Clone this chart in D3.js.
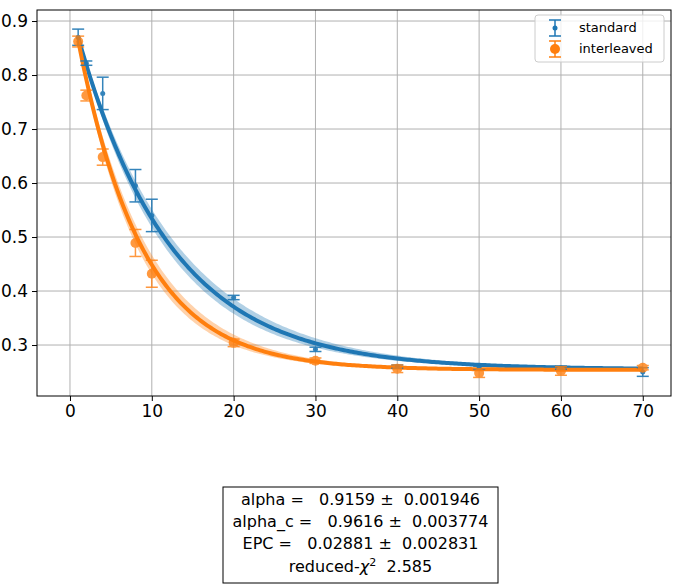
<!DOCTYPE html><html><head><script src="https://cdn.jsdelivr.net/npm/d3@7"></script>
<style>body{margin:0;background:#fff}</style></head><body><svg id="c" width="680" height="588"></svg><script>
const xs=[1,2,4,8,10,20,30,40,50,60,70];
const stdY=[0.870,0.822,0.766,0.595,0.540,0.388,0.292,0.260,0.258,0.258,0.250];
const stdE=[0.015,0.004,0.030,0.030,0.030,0.004,0.004,0.003,0.003,0.003,0.008];
const intY=[0.862,0.762,0.648,0.489,0.432,0.304,0.271,0.256,0.248,0.252,0.258];
const intE=[0.010,0.010,0.015,0.025,0.025,0.007,0.005,0.007,0.008,0.008,0.004];
const fitStd={A:0.672,alpha:0.9159,B:0.255,da:0.0055};
const fitInt={A:0.693,alpha:0.8807,B:0.254,da:0.0080};
const xTicks=[0,10,20,30,40,50,60,70], yTicks=[0.3,0.4,0.5,0.6,0.7,0.8,0.9];
const txt=["alpha =   0.9159 ±  0.001946","alpha_c =   0.9616 ±  0.003774","EPC =   0.02881 ±  0.002831"];
const svg=d3.select("#c");
const L=37,R=671,T=10,Bt=396;
const x=d3.scaleLinear().domain([-4.03,73.45]).range([L,R]);
const y=d3.scaleLinear().domain([0.2056,0.9204]).range([Bt,T]);
const g=svg.append("g");
xTicks.forEach(t=>g.append("line").attr("x1",x(t)).attr("x2",x(t)).attr("y1",T).attr("y2",Bt).attr("stroke","#b0b0b0"));
yTicks.forEach(t=>g.append("line").attr("x1",L).attr("x2",R).attr("y1",y(t)).attr("y2",y(t)).attr("stroke","#b0b0b0"));
const xa=svg.append("g").attr("transform",`translate(0,${Bt})`).call(d3.axisBottom(x).tickValues(xTicks).tickSize(5).tickPadding(4));
const ya=svg.append("g").attr("transform",`translate(${L},0)`).call(d3.axisLeft(y).tickValues(yTicks).tickFormat(d3.format(".1f")).tickSize(5).tickPadding(4));
[xa,ya].forEach(a=>{a.selectAll("text").attr("font-family","DejaVu Sans").attr("font-size",17).attr("fill","#000");a.select(".domain").remove();a.selectAll("line").attr("stroke","#000")});
svg.append("rect").attr("x",L).attr("y",T).attr("width",R-L).attr("height",Bt-T).attr("fill","none").attr("stroke","#000");
const grid=d3.range(1,70.01,0.25);
function curve(f,col){
  const m=d=>f.A*Math.pow(f.alpha,d)+f.B;
  const lo=d=>f.A*Math.pow(f.alpha-f.da,d)+f.B, hi=d=>f.A*Math.pow(f.alpha+f.da,d)+f.B;
  g.append("path").datum(grid).attr("d",d3.area().x(d=>x(d)).y0(d=>y(lo(d))).y1(d=>y(hi(d)))).attr("fill",col).attr("opacity",0.35);
  g.append("path").datum(grid).attr("d",d3.line().x(d=>x(d)).y(d=>y(m(d)))).attr("fill","none").attr("stroke",col).attr("stroke-width",4);
}
function pts(ys,es,col,r,op){
  const s=g.append("g").attr("opacity",op);
  xs.forEach((xv,i)=>{
    const X=x(xv);
    s.append("line").attr("x1",X).attr("x2",X).attr("y1",y(ys[i]-es[i])).attr("y2",y(ys[i]+es[i])).attr("stroke",col).attr("stroke-width",1.5);
    [ys[i]-es[i],ys[i]+es[i]].forEach(v=>s.append("line").attr("x1",X-6).attr("x2",X+6).attr("y1",y(v)).attr("y2",y(v)).attr("stroke",col).attr("stroke-width",1.5));
    s.append("circle").attr("cx",X).attr("cy",y(ys[i])).attr("r",r).attr("fill",col);
  });
}
curve(fitStd,"#1f77b4");
curve(fitInt,"#ff7f0e");
pts(stdY,stdE,"#1f77b4",2.5,0.9);
pts(intY,intE,"#ff7f0e",5,0.8);
const lg=svg.append("g");
lg.append("rect").attr("x",535).attr("y",15).attr("width",129).attr("height",47).attr("rx",3).attr("fill","#fff").attr("fill-opacity",0.8).attr("stroke","#ccc");
[["standard","#1f77b4",2.5,28],["interleaved","#ff7f0e",5,49]].forEach(([n,c,r,yy])=>{
  const X=555;
  lg.append("line").attr("x1",X).attr("x2",X).attr("y1",yy-8).attr("y2",yy+8).attr("stroke",c).attr("stroke-width",1.5);
  [yy-8,yy+8].forEach(v=>lg.append("line").attr("x1",X-6).attr("x2",X+6).attr("y1",v).attr("y2",v).attr("stroke",c).attr("stroke-width",1.5));
  lg.append("circle").attr("cx",X).attr("cy",yy).attr("r",r).attr("fill",c);
  lg.append("text").attr("x",579).attr("y",yy+4).text(n).attr("font-family","DejaVu Sans").attr("font-size",13);
});
svg.append("rect").attr("x",223).attr("y",487).attr("width",275).attr("height",96).attr("fill","#fff").attr("stroke","#000");
const tb=svg.append("g").attr("font-family","DejaVu Sans").attr("font-size",16).attr("text-anchor","middle");
txt.forEach((t,i)=>tb.append("text").attr("x",360.5).attr("y",505+i*22).style("white-space","pre").text(t));
const l4=tb.append("text").attr("x",360.5).attr("y",572).style("white-space","pre");
l4.append("tspan").text("reduced-");
l4.append("tspan").attr("font-style","italic").text("χ");
l4.append("tspan").attr("dy",-6).attr("font-size",11).text("2");
l4.append("tspan").attr("dy",6).text("  2.585");
</script></body></html>
